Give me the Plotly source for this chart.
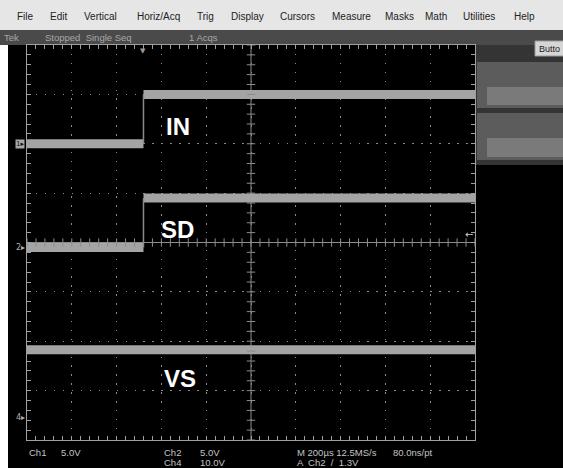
import numpy as np
import plotly.graph_objects as go

# ---------------- data ----------------
# time in microseconds relative to the trigger, 200 us/div, 10 div on screen
time_range_us = [-520, 1480]
t_before = [-520, 0]
t_after = [0, 1480]
t_full = [-520, 1480]

# channel settings: volts per division and reference position (div)
ch1_scale_v, ch1_offset_div = 5.0, 2.0
ch2_scale_v, ch2_offset_div = 5.0, -0.1
ch4_scale_v, ch4_offset_div = 10.0, -3.55

# signal levels (V)
in_low_v, in_high_v = 0.0, 5.0
sd_low_v, sd_high_v = 0.0, 5.0
vs_level_v = 13.8
trigger_level_v = 1.3

trace_labels = ["IN", "SD", "VS"]
menu_items = ["File", "Edit", "Vertical", "Horiz/Acq", "Trig", "Display",
              "Cursors", "Measure", "Masks", "Math", "Utilities", "Help"]
menu_x_px = [15, 48, 82, 135, 195, 229, 278, 330, 383, 423, 461, 512]
status_items = ["Tek", "Stopped  Single Seq", "1 Acqs"]
status_x_px = [2, 43, 187]
readout_row1 = [("Ch1", 27), ("5.0V", 59), ("Ch2", 162), ("5.0V", 198),
                ("M 200µs 12.5MS/s", 295), ("80.0ns/pt", 391)]
readout_row2 = [("Ch4", 162), ("10.0V", 198), ("A  Ch2  /  1.3V", 295)]


def to_div(v, scale, offset):
    return v / scale + offset


in_y = [to_div(in_low_v, ch1_scale_v, ch1_offset_div)] * 2 + [None] + \
       [to_div(in_high_v, ch1_scale_v, ch1_offset_div)] * 2
sd_y = [to_div(sd_low_v, ch2_scale_v, ch2_offset_div)] * 2 + [None] + \
       [to_div(sd_high_v, ch2_scale_v, ch2_offset_div)] * 2
step_x = t_before + [None] + t_after
vs_y = [to_div(vs_level_v, ch4_scale_v, ch4_offset_div)] * 2

# ---------------- layout helpers (pixel -> paper) ----------------
W, H = 563, 468
L, R, T, B = 27, 475, 45, 440


def px(x):
    return (x - L) / (R - L)


def py(y):
    return (B - y) / (B - T)


TRACE_COLOR = "#a4a4a4"
fig = go.Figure()

# thick level traces
for y in (in_y, sd_y):
    fig.add_trace(go.Scatter(x=step_x, y=y, mode="lines",
                             line=dict(color=TRACE_COLOR, width=9),
                             hoverinfo="skip", showlegend=False))
fig.add_trace(go.Scatter(x=t_full, y=vs_y, mode="lines",
                         line=dict(color=TRACE_COLOR, width=9),
                         hoverinfo="skip", showlegend=False))
# thin rising edges
for y in (in_y, sd_y):
    fig.add_trace(go.Scatter(x=[0, 0], y=[y[0], y[-1]], mode="lines",
                             line=dict(color="#8a8a8a", width=1.5),
                             hoverinfo="skip", showlegend=False))

# centre-line tick marks (graticule decoration)
xt = np.arange(time_range_us[0], time_range_us[1] + 1, 40)
yt = np.arange(-4, 4.001, 0.2)
center_t = (time_range_us[0] + time_range_us[1]) / 2
fig.add_trace(go.Scatter(x=xt, y=np.zeros_like(xt, dtype=float), mode="markers",
                         marker=dict(symbol="line-ns", size=6,
                                     line=dict(color="#8c8c8c", width=1)),
                         hoverinfo="skip", showlegend=False))
fig.add_trace(go.Scatter(x=np.full_like(yt, center_t), y=yt, mode="markers",
                         marker=dict(symbol="line-ew", size=6,
                                     line=dict(color="#8c8c8c", width=1)),
                         hoverinfo="skip", showlegend=False))

shapes = []


def rect(x0, y0, x1, y1, color, layer="below"):
    shapes.append(dict(type="rect", xref="paper", yref="paper",
                       x0=px(x0), x1=px(x1), y0=py(y1), y1=py(y0),
                       fillcolor=color, line=dict(width=0), layer=layer))


rect(0, 0, W, 30, "#e6e6e6")
rect(0, 30, W, 45, "#4a4a4a")
rect(476, 45, W, 165, "#343434")
rect(477, 62, W, 108, "#5c5c5c")
rect(487, 87, W, 105, "#7a7a7a")
rect(477, 113, W, 160, "#5c5c5c")
rect(487, 138, W, 157, "#7a7a7a")
rect(0, 45, 8, H, "#ffffff")
shapes.append(dict(type="rect", xref="paper", yref="paper",
                   x0=px(535), x1=px(570), y0=py(56), y1=py(41),
                   fillcolor="#d6d6d6", line=dict(color="#9a9a9a", width=1),
                   layer="below"))
# centre cross lines
shapes.append(dict(type="line", xref="x", yref="paper", x0=center_t, x1=center_t,
                   y0=0, y1=1, line=dict(color="#8c8c8c", width=1), layer="between"))
shapes.append(dict(type="line", xref="paper", yref="y", x0=0, x1=1, y0=0, y1=0,
                   line=dict(color="#8c8c8c", width=1), layer="between"))

ann = []
for txt, x in zip(menu_items, menu_x_px):
    ann.append(dict(text=txt, xref="paper", yref="paper", x=px(x), y=py(16),
                    xanchor="left", yanchor="middle", showarrow=False,
                    font=dict(family="Liberation Sans", size=10, color="#222222")))
for txt, x in zip(status_items, status_x_px):
    ann.append(dict(text=txt, xref="paper", yref="paper", x=px(x), y=py(37.5),
                    xanchor="left", yanchor="middle", showarrow=False,
                    font=dict(family="Liberation Sans", size=9.5, color="#a8a8a8")))
ann.append(dict(text="Butto", xref="paper", yref="paper", x=px(562), y=py(48.5),
                xanchor="right", yanchor="middle", showarrow=False,
                font=dict(family="Liberation Sans", size=9, color="#222222")))
for txt, x in readout_row1:
    ann.append(dict(text=txt, xref="paper", yref="paper", x=px(x), y=py(452),
                    xanchor="left", yanchor="middle", showarrow=False,
                    font=dict(family="Liberation Sans", size=9.5, color="#c4c4c4")))
for txt, x in readout_row2:
    ann.append(dict(text=txt, xref="paper", yref="paper", x=px(x), y=py(462.5),
                    xanchor="left", yanchor="middle", showarrow=False,
                    font=dict(family="Liberation Sans", size=9.5, color="#c4c4c4")))

# trace labels
label_pos = [(177.5, 126), (177.5, 229), (179.5, 378)]
for txt, (x, y) in zip(trace_labels, label_pos):
    ann.append(dict(text="<b>%s</b>" % txt, xref="paper", yref="paper",
                    x=px(x), y=py(y), xanchor="center", yanchor="middle",
                    showarrow=False,
                    font=dict(family="Liberation Sans", size=24, color="#ffffff")))

# channel reference markers
ann.append(dict(text="1▸", xref="paper", yref="y", x=px(25), y=ch1_offset_div,
                xanchor="right", yanchor="middle", showarrow=False,
                bgcolor="#a8a8a8", borderpad=0,
                font=dict(family="DejaVu Sans", size=7, color="#111111")))
ann.append(dict(text="2▸", xref="paper", yref="y", x=px(27), y=ch2_offset_div,
                xanchor="right", yanchor="middle", showarrow=False,
                font=dict(family="DejaVu Sans", size=8, color="#b0b0b0")))
ann.append(dict(text="4▸", xref="paper", yref="y", x=px(27), y=ch4_offset_div,
                xanchor="right", yanchor="middle", showarrow=False,
                font=dict(family="DejaVu Sans", size=8, color="#b0b0b0")))
# trigger level and position markers
ann.append(dict(text="←", xref="paper", yref="y", x=1,
                y=to_div(trigger_level_v, ch2_scale_v, ch2_offset_div),
                xanchor="right", yanchor="middle", showarrow=False,
                font=dict(family="DejaVu Sans", size=10, color="#d0d0d0")))
ann.append(dict(text="▼", xref="x", yref="paper", x=0, y=1,
                xanchor="center", yanchor="top", showarrow=False,
                font=dict(family="DejaVu Sans", size=7, color="#9a9a9a")))

axis_common = dict(showticklabels=False, showline=True, linecolor="#a0a0a0",
                   linewidth=1, mirror="ticks", ticks="inside", ticklen=4,
                   tickcolor="#a0a0a0", showgrid=True, gridcolor="#8a8a8a",
                   gridwidth=1, zeroline=False, fixedrange=True)

fig.update_layout(
    width=W, height=H,
    margin=dict(l=L, r=W - R, t=T, b=H - B, pad=0),
    paper_bgcolor="#000000", plot_bgcolor="#000000",
    showlegend=False,
    xaxis=dict(range=time_range_us, tick0=time_range_us[0], dtick=200,
               griddash="1.5px,7.4px",
               minor=dict(dtick=40, ticks="inside", ticklen=4, tickcolor="#a0a0a0",
                          showgrid=False),
               **axis_common),
    yaxis=dict(range=[-4, 4], tick0=-4, dtick=1, griddash="1.5px,7.46px",
               minor=dict(dtick=0.2, ticks="inside", ticklen=4, tickcolor="#a0a0a0",
                          showgrid=False),
               **axis_common),
    shapes=shapes,
    annotations=ann,
)

fig.write_html("out.html", config={"displayModeBar": False},
               post_script="document.body.style.margin='0';"
                           "document.body.style.overflow='hidden';")
